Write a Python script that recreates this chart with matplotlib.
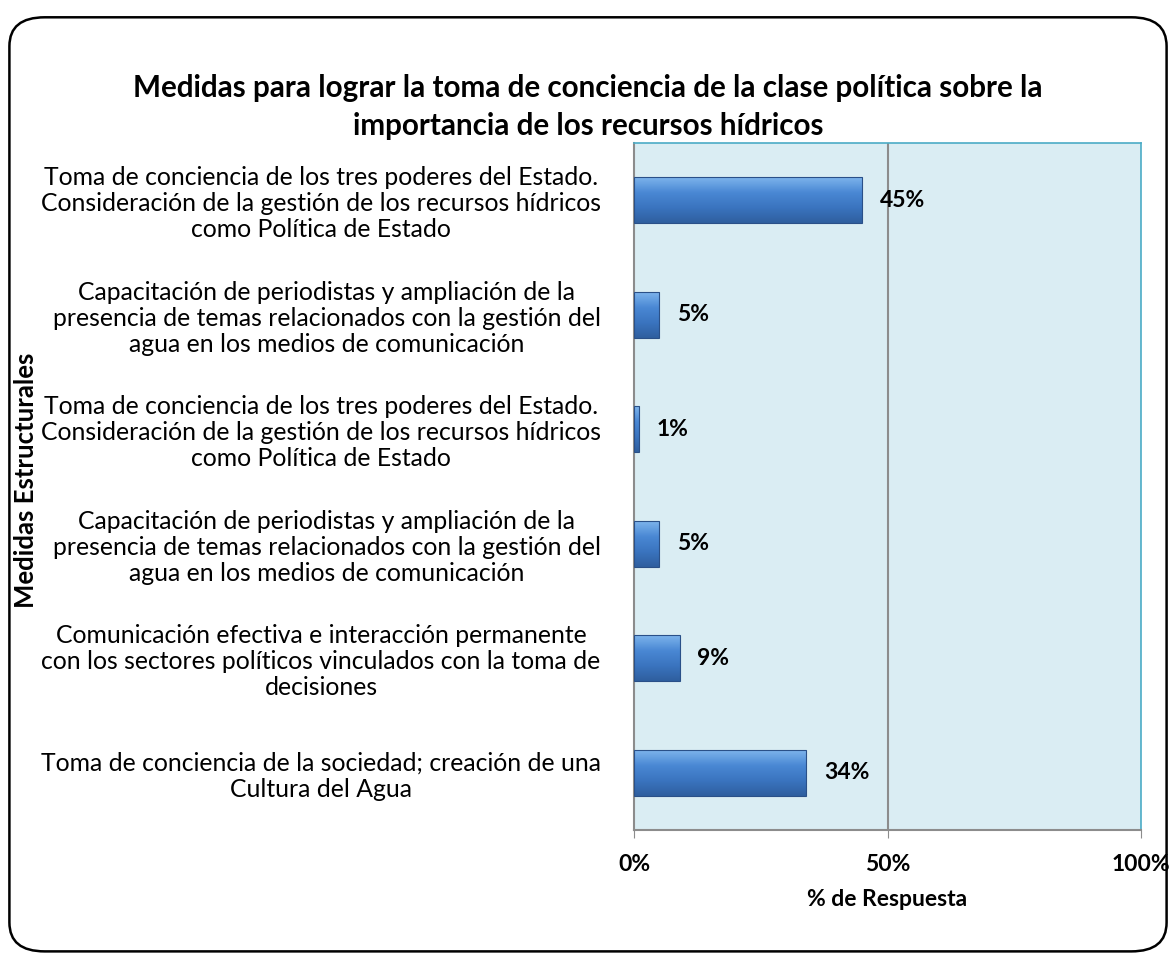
import numpy as np
import matplotlib
matplotlib.use("Agg")
import matplotlib.pyplot as plt
from matplotlib.patches import FancyBboxPatch
from matplotlib.colors import LinearSegmentedColormap

plt.rcParams['font.family'] = ['Lato', 'DejaVu Sans']

# data, top to bottom as in the chart
categorias = [
    "Toma de conciencia de los tres poderes del Estado.\nConsideración de la gestión de los recursos hídricos\ncomo Política de Estado",
    "Capacitación de periodistas y ampliación de la\npresencia de temas relacionados con la gestión del\nagua en los medios de comunicación",
    "Toma de conciencia de los tres poderes del Estado.\nConsideración de la gestión de los recursos hídricos\ncomo Política de Estado",
    "Capacitación de periodistas y ampliación de la\npresencia de temas relacionados con la gestión del\nagua en los medios de comunicación",
    "Comunicación efectiva e interacción permanente\ncon los sectores políticos vinculados con la toma de\ndecisiones",
    "Toma de conciencia de la sociedad; creación de una\nCultura del Agua",
]
porcentajes = [45, 5, 1, 5, 9, 34]
ticks_x = [0, 50, 100]
ticks_x_labels = ["0%", "50%", "100%"]

fig = plt.figure(figsize=(11.76, 9.61), dpi=100)

# rounded frame around the whole chart
marco = FancyBboxPatch((0.008, 0.01), 0.984, 0.972, boxstyle="round,pad=0,rounding_size=0.03",
                       transform=fig.transFigure, fill=False, edgecolor='black', linewidth=1.8)
fig.patches.append(marco)

ax = fig.add_axes([634 / 1176, 1 - 830 / 961, (1141 - 634) / 1176, (830 - 143) / 961])
ax.set_facecolor('#daedf3')

y = np.arange(len(categorias))
alto = 0.4

grad = np.linspace(0, 1, 100).reshape(-1, 1)
cmap = LinearSegmentedColormap.from_list('barra', ['#7db4ec', '#4a88d4', '#3a74bf', '#2f5f9f'])

for yi, v in zip(y, porcentajes):
    ax.imshow(grad, aspect='auto', cmap=cmap, extent=[0, v, yi + alto / 2, yi - alto / 2],
              zorder=3, interpolation='bilinear')
    ax.barh(yi, v, height=alto, color='none', edgecolor='#2a5088', linewidth=0.8, zorder=4)
    ax.text(v + 3.5, yi, f"{v}%", va='center', ha='left', fontsize=16.5, fontweight='bold', zorder=5)

ax.set_xlim(0, 100)
ax.set_ylim(len(categorias) - 0.5, -0.5)
ax.axvline(50, color='#8c8c8c', linewidth=1.5, zorder=1)

ax.set_xticks(ticks_x)
ax.set_xticklabels(ticks_x_labels, fontsize=16.5, fontweight='bold')
ax.set_yticks(y)
ax.set_yticklabels(categorias, fontsize=17.8, multialignment='center', linespacing=1.15)
ax.tick_params(axis='y', length=0, pad=24)
ax.tick_params(axis='x', length=6, color='#8c8c8c', direction='out', pad=11)

for lado in ['top', 'right']:
    ax.spines[lado].set_color('#4bacc6')
    ax.spines[lado].set_linewidth(1.2)
for lado in ['left', 'bottom']:
    ax.spines[lado].set_color('#8c8c8c')
    ax.spines[lado].set_linewidth(1.5)

ax.set_xlabel("% de Respuesta", fontsize=16.5, fontweight='bold', labelpad=10)

fig.text(26 / 1176, 1 - 480 / 961, "Medidas Estructurales", rotation=90, fontsize=18.5,
         fontweight='bold', ha='center', va='center')

fig.text(588 / 1176, 1 - 107 / 961,
         "Medidas para lograr la toma de conciencia de la clase política sobre la\nimportancia de los recursos hídricos",
         ha='center', va='center', fontsize=21.3, fontweight='bold', linespacing=1.4)

fig.savefig("out.png", dpi=100)
